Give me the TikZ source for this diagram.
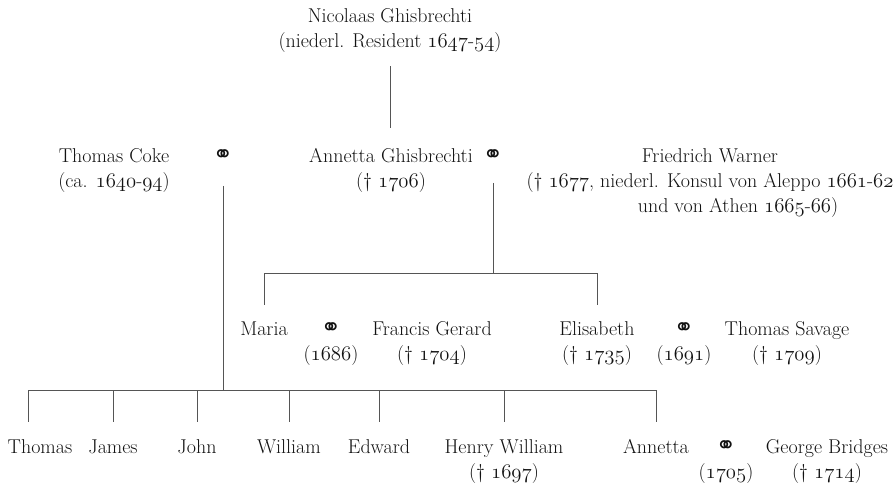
\documentclass[tikz,border=0pt]{standalone}
\usepackage{fontspec}
\usepackage{tikz}
\usepackage{xcolor}

\newfontfamily\ringfont{DejaVu Sans}
\newcommand{\osn}[1]{{\fontencoding{OML}\fontfamily{lmm}\fontseries{m}\fontshape{it}\selectfont #1}}
\newcommand{\ringsym}{{\ringfont\fontsize{24}{25}\selectfont ⚭}}

\begin{document}
\begin{tikzpicture}[x=1pt, y=-1pt,
		person/.style={anchor=north, align=center, inner sep=0pt, text={INK},
			font=\fontsize{20}{25}\selectfont},
		link/.style={draw={LINE}, line width={0.9pt}}]
				\definecolor{INK}{RGB}{18, 18, 18}
				\definecolor{LINE}{RGB}{85, 85, 85}
				\useasboundingbox (0.000, 0.000) rectangle (893.000, 488.000);

				% first generation
				\node[person] (nicolaas) at (390.000, 4.500) {\strut Nicolaas Ghisbrechti\\(niederl. Resident \osn{1647}-\osn{54})};

				% second generation
				\node[person] (coke) at (114.000, 144.500) {\strut Thomas Coke\\(ca. \osn{1640}-\osn{94})};
				\node[person] (cokering) at (223.000, 144.500) {\strut\ringsym};
				\node[person] (annetta) at (391.000, 144.500) {\strut Annetta Ghisbrechti\\(† \osn{1706})};
				\node[person] (warnerring) at (493.000, 144.500) {\strut\ringsym};
				\node[person] (warner) at (710.000, 144.500) {\strut Friedrich Warner\\(† \osn{1677}, niederl. Konsul von Aleppo \osn{1661}-\osn{62}\\\hspace*{56pt}und von Athen \osn{1665}-\osn{66})};

				% daughters of Annetta and Warner
				\node[person] (maria) at (264.000, 317.500) {\strut Maria};
				\node[person] (gerardring) at (331.000, 317.500) {\strut\ringsym\\(\osn{1686})};
				\node[person] (gerard) at (432.000, 317.500) {\strut Francis Gerard\\(† \osn{1704})};
				\node[person] (elisabeth) at (597.000, 317.500) {\strut Elisabeth\\(† \osn{1735})};
				\node[person] (savagering) at (684.000, 317.500) {\strut\ringsym\\(\osn{1691})};
				\node[person] (savage) at (787.000, 317.500) {\strut Thomas Savage\\(† \osn{1709})};

				% children of Coke and Annetta
				\node[person] (thomas) at (40.000, 435.500) {\strut Thomas};
				\node[person] (james) at (113.000, 435.500) {\strut James};
				\node[person] (john) at (197.000, 435.500) {\strut John};
				\node[person] (william) at (289.000, 435.500) {\strut William};
				\node[person] (edward) at (379.000, 435.500) {\strut Edward};
				\node[person] (henry) at (504.000, 435.500) {\strut Henry William\\(† \osn{1697})};
				\node[person] (annettajr) at (656.000, 435.500) {\strut Annetta};
				\node[person] (bridgesring) at (726.000, 435.500) {\strut\ringsym\\(\osn{1705})};
				\node[person] (bridges) at (827.000, 435.500) {\strut George Bridges\\(† \osn{1714})};

				% family lines
				\coordinate (girlsbar) at (492.000, 273.000);
				\coordinate (kidsbar) at (222.000, 390.000);

				\draw[link, shorten <=14pt, shorten >=17pt] (nicolaas.south) -- (nicolaas.south |- annetta.north);

				\draw[link, shorten <=13pt] (warnerring.south) -- (warnerring.south |- girlsbar);
				\draw[link] (maria.north |- girlsbar) -- (elisabeth.north |- girlsbar);
				\draw[link, shorten >=12.5pt] (maria.north |- girlsbar) -- (maria.north);
				\draw[link, shorten >=12.5pt] (elisabeth.north |- girlsbar) -- (elisabeth.north);

				\draw[link, shorten <=16pt] (cokering.south) -- (cokering.south |- kidsbar);
				\draw[link] ([xshift=-12pt]thomas.north |- kidsbar) -- (annettajr.north |- kidsbar);
				\draw[link, shorten >=13.5pt] ([xshift=-12pt]thomas.north |- kidsbar) -- ([xshift=-12pt]thomas.north);
				\foreach \kid in {james, john, william, edward, henry, annettajr}
					\draw[link, shorten >=13.5pt] (\kid.north |- kidsbar) -- (\kid.north);

			\end{tikzpicture}
\end{document}
